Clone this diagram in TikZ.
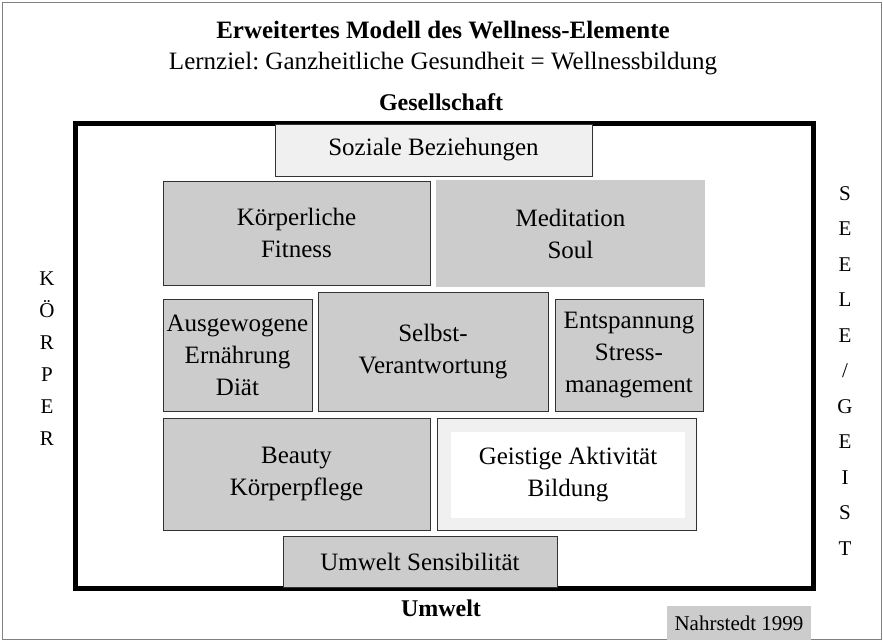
\documentclass[tikz,border=0pt]{standalone}
\usepackage{fontspec}
\setmainfont{Liberation Serif}
\usepackage{xcolor}
\definecolor{cellgray}{HTML}{CCCCCC}
\definecolor{palegray}{HTML}{F0F0F0}
\definecolor{edgegray}{HTML}{333333}
\frenchspacing
\tikzset{
  cell/.style={draw=edgegray, line width=1pt, fill=cellgray, align=center,
    inner sep=0pt, font=\fontsize{25}{32}\selectfont},
  plaincell/.style={cell, draw=none},
  side/.style={align=center, font=\fontsize{21}{32}\selectfont},
  head/.style={font=\fontsize{25}{28}\selectfont\bfseries},
}
\begin{document}
\begin{tikzpicture}[x=1pt,y=-1pt]
  \useasboundingbox (0,0) rectangle (883,640);
  \draw[gray, line width=1pt] (2,2) rectangle (881,639);
  \node (ti) [head] at (443,30) {Erweitertes Modell des Wellness-Elemente};
  \node (lz) [font=\fontsize{25}{28}\selectfont] at (443,64) {Lernziel: Ganzheitliche Gesundheit = Wellnessbildung};
  \node (gs) [head, font=\fontsize{24}{28}\selectfont\bfseries] at (441,102) {Gesellschaft};
  \draw[line width=5pt] (75,123) rectangle (813,588);
  \node (sz) [cell, fill=palegray, minimum width=317pt, minimum height=52pt] at (433.5,150) {Soziale Beziehungen};
  \node (kf) [cell, minimum width=267pt, minimum height=104pt] at (296.5,233) {Körperliche\\Fitness};
  \node (ms) [plaincell, minimum width=269pt, minimum height=107pt] at (570.5,233.5) {Meditation\\Soul};
  \node (ae) [cell, minimum width=149pt, minimum height=112pt] at (237.5,355) {Ausgewogene\\Ernährung\\Diät};
  \node (sv) [cell, minimum width=230pt, minimum height=119pt] at (433,351.5) {Selbst-\\Verantwortung};
  \node (es) [cell, minimum width=148pt, minimum height=112pt] at (629,355) {Entspannung\\Stress-\\management};
  \node (bk) [cell, minimum width=267pt, minimum height=112pt] at (296.5,474) {Beauty\\Körperpflege};
  \node (gb) [cell, fill=palegray, minimum width=259pt, minimum height=112pt] at (566.5,474) {};
  \node (gi) [plaincell, fill=white, minimum width=234pt, minimum height=86pt] at (568,475) {Geistige Aktivität\\Bildung};
  \node (us) [cell, minimum width=274pt, minimum height=51pt] at (420,562) {Umwelt Sensibilität};
  \node (uw) [head, font=\fontsize{24}{28}\selectfont\bfseries] at (441,608) {Umwelt};
  \node (nd) [plaincell, font=\fontsize{21}{24}\selectfont, minimum width=144pt, minimum height=34pt] at (739,623) {Nahrstedt 1999};
  \node (kp) [side, anchor=north] at (47,268) {K\\Ö\\R\\P\\E\\R};
  \node (sg) [side, anchor=north, font=\fontsize{21}{35.5}\selectfont] at (845,183) {S\\E\\E\\L\\E\\/\\G\\E\\I\\S\\T};
\end{tikzpicture}
\end{document}
